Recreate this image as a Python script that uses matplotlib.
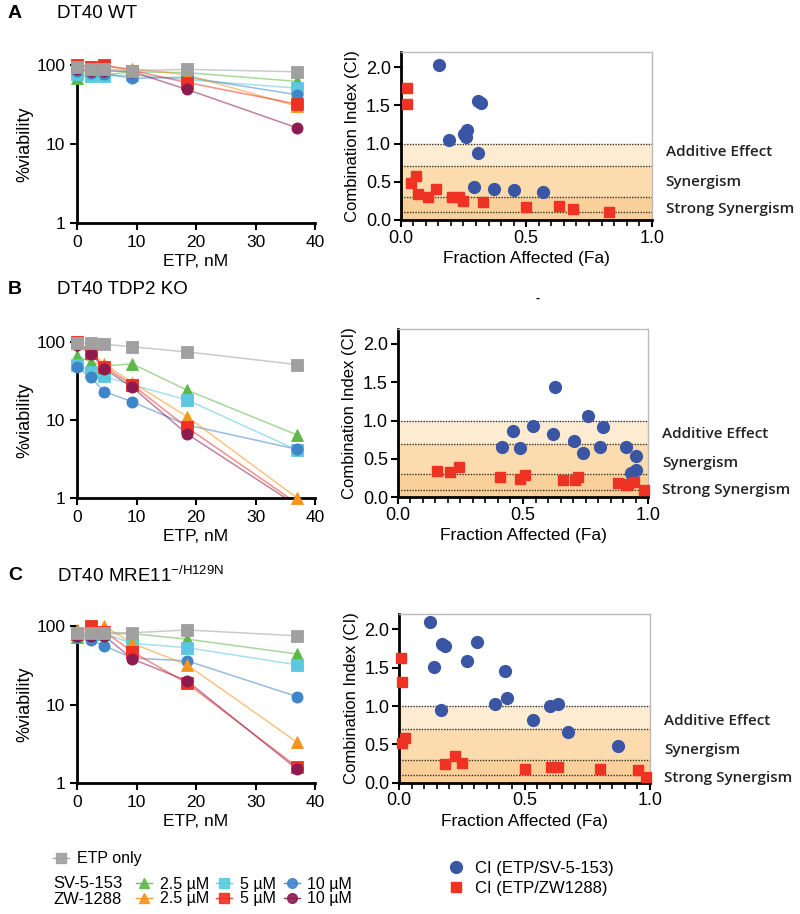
import numpy as np
import matplotlib.pyplot as plt
from matplotlib.lines import Line2D
from matplotlib.ticker import MultipleLocator

plt.rcParams['font.family'] = ['Liberation Sans', 'DejaVu Sans']
plt.rcParams['mathtext.default'] = 'regular'

# ETP doses (nM)
etp = [0, 2.3, 4.6, 9.3, 18.5, 37]

# %viability, panel A (DT40 WT)
a_etp = [95, 90, 88, 85, 88, 82]
a_sv25 = [68, 75, 75, 82, 80, 62]
a_sv5 = [78, 72, 72, 75, 65, 51]
a_sv10 = [85, 80, 78, 68, 70, 42]
a_zw25 = [100, 95, 95, 90, 75, 30]
a_zw5 = [100, 95, 100, 85, 60, 32]
a_zw10 = [90, 85, 85, 82, 49, 16]

# %viability, panel B (DT40 TDP2 KO)
b_etp = [95, 95, 93, 86, 74, 51]
b_sv25 = [66, 55, 49, 52, 24, 6.4]
b_sv5 = [51, 41, 36, 28, 18, 4.1]
b_sv10 = [48, 35, 23, 17, 8.6, 4.2]
b_zw25 = [100, 75, 52, 30, 11, 1.0]
b_zw5 = [100, 72, 48, 28, 8, 0.85]
b_zw10 = [92, 70, 45, 26, 6.6, 0.8]

# %viability, panel C (DT40 MRE11 -/H129N)
c_etp = [81, 81, 82, 82, 89, 75]
c_sv25 = [72, 80, 80, 80, 68, 44]
c_sv5 = [80, 85, 80, 60, 53, 32]
c_sv10 = [72, 66, 56, 39, 36, 12.6]
c_zw25 = [90, 100, 100, 60, 32, 3.3]
c_zw5 = [80, 100, 85, 47, 18.6, 1.6]
c_zw10 = [75, 75, 75, 38, 20, 1.5]

# combination index vs fraction affected
a_sv_fa = [0.153, 0.309, 0.319, 0.193, 0.252, 0.263, 0.260, 0.309, 0.292, 0.370, 0.450, 0.568]
a_sv_ci = [2.03, 1.55, 1.53, 1.05, 1.12, 1.17, 1.09, 0.88, 0.43, 0.41, 0.39, 0.37]
a_zw_fa = [0.024, 0.024, 0.040, 0.061, 0.070, 0.110, 0.141, 0.203, 0.232, 0.250, 0.329, 0.499, 0.631, 0.688, 0.830]
a_zw_ci = [1.72, 1.51, 0.49, 0.58, 0.34, 0.30, 0.41, 0.30, 0.30, 0.25, 0.23, 0.17, 0.18, 0.14, 0.10]

b_sv_fa = [0.628, 0.418, 0.461, 0.488, 0.539, 0.618, 0.705, 0.738, 0.761, 0.807, 0.818, 0.910, 0.949, 0.930, 0.951]
b_sv_ci = [1.44, 0.66, 0.87, 0.64, 0.93, 0.83, 0.74, 0.58, 1.06, 0.66, 0.92, 0.65, 0.54, 0.32, 0.35]
b_zw_fa = [0.158, 0.209, 0.246, 0.408, 0.488, 0.508, 0.658, 0.707, 0.721, 0.878, 0.911, 0.920, 0.943, 0.983]
b_zw_ci = [0.34, 0.33, 0.40, 0.26, 0.24, 0.29, 0.23, 0.23, 0.26, 0.18, 0.16, 0.17, 0.20, 0.09]

c_sv_fa = [0.122, 0.138, 0.173, 0.182, 0.169, 0.271, 0.311, 0.383, 0.423, 0.431, 0.532, 0.601, 0.634, 0.672, 0.874]
c_sv_ci = [2.10, 1.51, 1.81, 1.78, 0.95, 1.59, 1.83, 1.02, 1.46, 1.11, 0.82, 1.00, 1.02, 0.66, 0.48]
c_zw_fa = [0.007, 0.011, 0.013, 0.023, 0.182, 0.222, 0.251, 0.501, 0.604, 0.634, 0.801, 0.953, 0.983]
c_zw_ci = [1.63, 1.31, 0.52, 0.58, 0.25, 0.35, 0.26, 0.18, 0.21, 0.21, 0.18, 0.16, 0.08]

# series styles: SV 2.5/5/10, ZW 2.5/5/10, ETP only (drawn last)
colors = ['#5db848', '#5bc8e0', '#3f85c9', '#f7941d', '#ee3124', '#8e1b4f', '#a0a0a0']
markers = ['^', 's', 'o', '^', 's', 'o', 's']
conc = ['2.5 µM', '5 µM', '10 µM']
blue = '#3a55a4'
red = '#ee3224'

W, H = 800, 914
fig = plt.figure(figsize=(W / 100, H / 100), dpi=100)


def box(x0, x1, ybot, ytop):
    return [x0 / W, 1 - ybot / H, (x1 - x0) / W, (ybot - ytop) / H]


def viability(ax, series):
    for vals, col, mk in zip(series, colors, markers):
        v = np.array(vals, float)
        x = np.array(etp, float)
        ax.plot(x, v, '-', color=col, alpha=0.55, lw=1.1, zorder=2)
        keep = v >= 1
        ax.plot(x[keep], v[keep], ls='none', marker=mk, ms=8, mfc=col,
                mec=col, mew=0.6, clip_on=False, zorder=3)
    ax.set_yscale('log')
    ax.set_ylim(1, 100)
    ax.set_xlim(0, 40)
    ax.set_yticks([1, 10, 100])
    ax.set_yticklabels(['1', '10', '100'])
    ax.yaxis.set_minor_locator(plt.NullLocator())
    ax.set_xticks([0, 10, 20, 30, 40])
    for s in ['top', 'right']:
        ax.spines[s].set_visible(False)
    for s in ['left', 'bottom']:
        ax.spines[s].set_linewidth(2)
    ax.tick_params(labelsize=12.5, width=1.5, length=5)
    ax.set_xlabel('ETP, nM', fontsize=12.5, labelpad=3)
    ax.set_ylabel('%viability', fontsize=13, labelpad=2)


def ci_plot(ax, sv_fa, sv_ci, zw_fa, zw_ci, label_y):
    ax.axhspan(0.7, 1.0, color='#fdebd2', lw=0, zorder=0)
    ax.axhspan(0.3, 0.7, color='#fcdcae', lw=0, zorder=0)
    ax.axhspan(0.0, 0.3, color='#fad09a', lw=0, zorder=0)
    for y in [1.0, 0.7, 0.3, 0.1]:
        ax.axhline(y, color='#333333', ls=(0, (1, 1)), lw=1, zorder=1)
    ax.plot(sv_fa, sv_ci, 'o', ms=8.5, color=blue, clip_on=False, zorder=3)
    ax.plot(zw_fa, zw_ci, 's', ms=7.5, color=red, clip_on=False, zorder=4)
    ax.set_xlim(0, 1)
    ax.set_ylim(0, 2.2)
    ax.set_yticks([0, 0.5, 1.0, 1.5, 2.0])
    ax.set_yticklabels(['0.0', '0.5', '1.0', '1.5', '2.0'])
    ax.set_xticks([0, 0.5, 1.0])
    ax.set_xticklabels(['0.0', '0.5', '1.0'])
    ax.xaxis.set_minor_locator(MultipleLocator(0.05))
    for s in ['top', 'right']:
        ax.spines[s].set_color('#bbbbbb')
        ax.spines[s].set_linewidth(1)
    for s in ['left', 'bottom']:
        ax.spines[s].set_linewidth(2)
    ax.tick_params(labelsize=13, width=1.5, length=5, pad=2)
    ax.tick_params(which='minor', width=1.2, length=4)
    ax.set_xlabel('Fraction Affected (Fa)', fontsize=12.5, labelpad=3)
    ax.set_ylabel('Combination Index (CI)', fontsize=12, labelpad=4)
    names = ['Additive Effect', 'Synergism', 'Strong Synergism']
    tr = ax.get_yaxis_transform()
    for name, y in zip(names, label_y):
        ax.text(1.055, y, name, transform=tr, va='center', ha='left',
                fontsize=11, family=['Open Sans', 'DejaVu Sans'],
                fontweight='semibold', color='#222222')


panels = [
    ('A', 'DT40 WT', 14,
     [a_sv25, a_sv5, a_sv10, a_zw25, a_zw5, a_zw10, a_etp],
     (a_sv_fa, a_sv_ci, a_zw_fa, a_zw_ci), [0.89, 0.50, 0.15],
     box(77, 315, 223, 65), box(400.7, 651.7, 220, 51.7)),
    ('B', 'DT40 TDP2 KO', 290,
     [b_sv25, b_sv5, b_sv10, b_zw25, b_zw5, b_zw10, b_etp],
     (b_sv_fa, b_sv_ci, b_zw_fa, b_zw_ci), [0.83, 0.45, 0.09],
     box(77, 315, 498, 341.7), box(397.7, 648.3, 497.3, 328.6)),
    ('C', 'DT40 MRE11$^{-/H129N}$', 576,
     [c_sv25, c_sv5, c_sv10, c_zw25, c_zw5, c_zw10, c_etp],
     (c_sv_fa, c_sv_ci, c_zw_fa, c_zw_ci), [0.81, 0.42, 0.06],
     box(77, 315, 783, 626), box(399, 650, 782.7, 614),
     ),
]

for letter, title, ty, series, ci, lab_y, lrect, rrect in panels:
    fig.text(8 / W, 1 - ty / H, letter, fontsize=14, fontweight='bold', va='center')
    fig.text(57 / W, 1 - ty / H, title, fontsize=13.5, va='center')
    axl = fig.add_axes(lrect)
    viability(axl, series)
    axr = fig.add_axes(rrect)
    ci_plot(axr, *ci, lab_y)

# small stray mark seen in panel B
fig.text(536 / W, 1 - 302 / H, '-', fontsize=9, fontweight='bold')


def handle(i):
    return Line2D([], [], color=colors[i], marker=markers[i], ms=7,
                  mfc=colors[i], mec=colors[i], lw=1, alpha=0.9)


leg_kw = dict(loc='center left', frameon=False, fontsize=11.5, borderpad=0,
              borderaxespad=0, handlelength=1.0, handletextpad=0.5,
              columnspacing=0.45)

fig.legend([handle(6)], ['ETP only'], bbox_to_anchor=(53 / W, 1 - 859 / H), **leg_kw)
fig.text(53 / W, 1 - 884 / H, 'SV-5-153', fontsize=12, va='center')
fig.legend([handle(0), handle(1), handle(2)], conc, ncol=3,
           bbox_to_anchor=(136 / W, 1 - 884 / H), **leg_kw)
fig.text(53 / W, 1 - 899 / H, 'ZW-1288', fontsize=12, va='center')
fig.legend([handle(3), handle(4), handle(5)], conc, ncol=3,
           bbox_to_anchor=(136 / W, 1 - 899 / H), **leg_kw)

ci_handles = [Line2D([], [], ls='none', marker='o', ms=8.5, color=blue),
              Line2D([], [], ls='none', marker='s', ms=7, color=red)]
ci_kw = dict(leg_kw, fontsize=12, handletextpad=0.6)
fig.legend(ci_handles, ['CI (ETP/SV-5-153)', 'CI (ETP/ZW1288)'],
           bbox_to_anchor=(448 / W, 1 - 878.5 / H), labelspacing=0.3, **ci_kw)

fig.savefig('out.png', dpi=100)
